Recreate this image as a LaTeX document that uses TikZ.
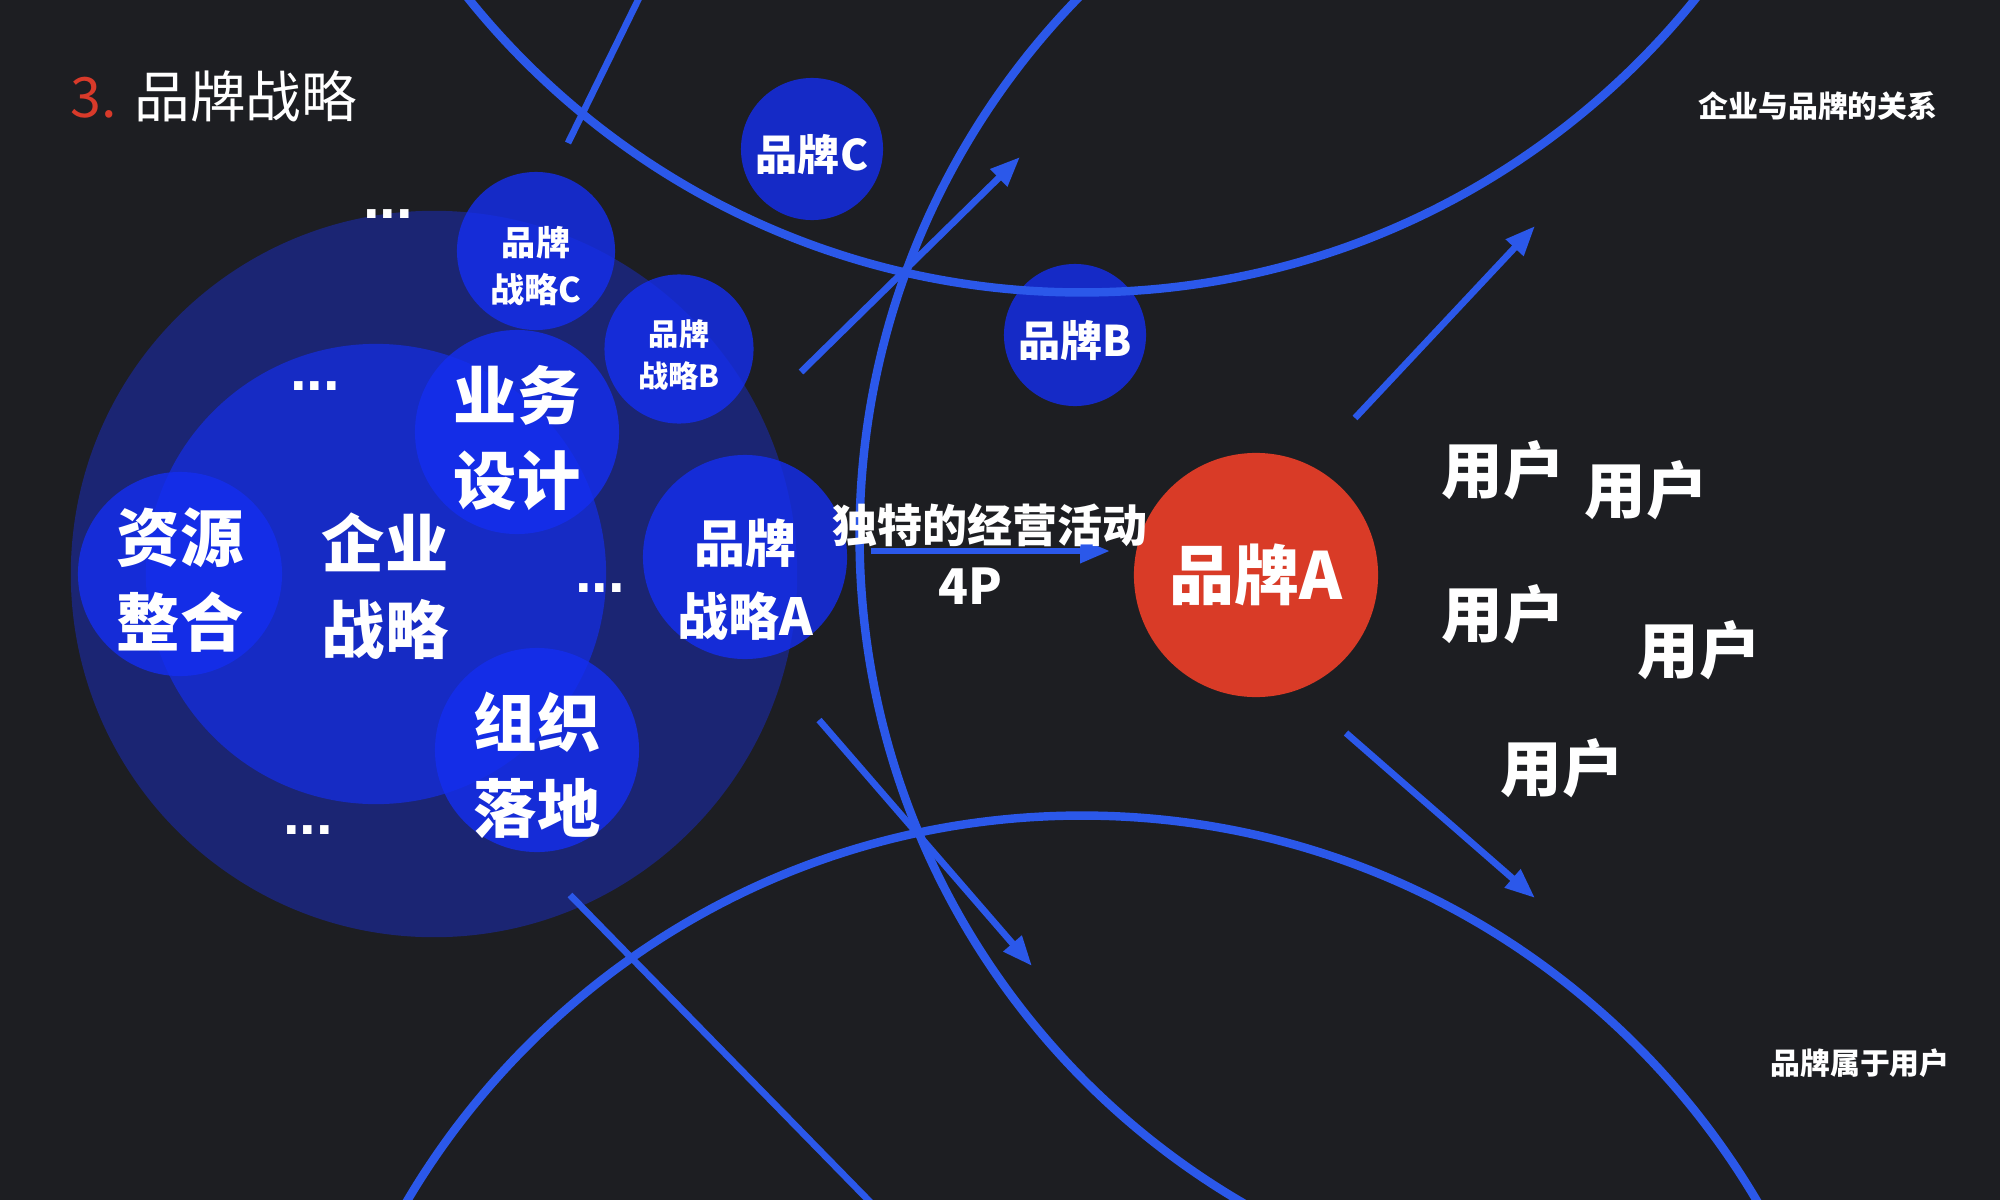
\documentclass[tikz,border=0pt]{standalone}
\usepackage{fontspec}
\setmainfont{Noto Sans CJK SC}
\newfontfamily\dotfont{Liberation Sans}
\usetikzlibrary{arrows.meta}
\definecolor{bgc}{HTML}{1D1E22}
\definecolor{linec}{HTML}{2B58EA}
\definecolor{outerc}{HTML}{1B2573}
\definecolor{innerc}{HTML}{162BC4}
\definecolor{bubc}{HTML}{142EF0}
\definecolor{redc}{HTML}{D93B27}
\definecolor{titlered}{HTML}{D83A2A}
\tikzset{   ring/.style = {draw = linec, line width = 2.4pt},
            ray/.style = {draw = linec, line width = 1.9pt},
            arr/.style = {ray, -{Triangle[length = 8.5pt, width = 6.5pt]}},
            bub/.style = {circle, fill = bubc, fill opacity = 0.8, inner sep = 0pt},
            btxt/.style = {text = white, align = center, inner sep = 0pt, yshift = -1.7pt},
            bigfont/.style = {text = white, align = center, font = \bfseries\fontsize{18pt}{24.4pt}\selectfont},
            bigtxt/.style = {btxt, bigfont},
            midtxt/.style = {btxt, font = \bfseries\fontsize{14.5pt}{20.7pt}\selectfont},
            smtxt/.style = {btxt, font = \bfseries\fontsize{9.7pt}{13.3pt}\selectfont},
            xstxt/.style = {btxt, font = \bfseries\fontsize{8.6pt}{11.9pt}\selectfont},
            brtxt/.style = {btxt, font = \bfseries\fontsize{12pt}{14pt}\selectfont},
            ellip/.style = {text = white, anchor = base, inner sep = 0pt, font = \dotfont\bfseries\fontsize{17pt}{20pt}\selectfont},
            user/.style = {text = white, inner sep = 0pt, font = \bfseries\fontsize{17.5pt}{20pt}\selectfont},
            lab/.style = {text = white, inner sep = 0pt, font = \bfseries\fontsize{12.8pt}{15pt}\selectfont},
            note/.style = {text = white, inner sep = 0pt, font = \bfseries\fontsize{8.5pt}{10pt}\selectfont}}

\begin{document}
\begin{tikzpicture}[x = 0.01cm, y = -0.01cm]
\useasboundingbox (0,0) rectangle (2000,1200);
\fill[bgc] (0,0) rectangle (2000,1200);
\begin{scope}
\clip (0,0) rectangle (2000,1200);
% left cluster
\node[circle, fill = outerc, minimum size = 7.26cm, inner sep = 0pt] (outer) at (434,574) {};
\node[circle, fill = innerc, minimum size = 4.6cm, inner sep = 0pt] (inner) at (376,574) {};
\node[bub, minimum size = 2.04cm, label = {[bigtxt]center:{资源\\整合}}] (zyzh) at (180,574) {};
\node[bigfont] (qyzl) at (385,586) {企业\\战略};
\node[bub, minimum size = 2.04cm, label = {[bigtxt]center:{业务\\设计}}] (ywsj) at (517,432) {};
\node[bub, minimum size = 2.04cm, label = {[bigtxt, yshift = -2.6pt]center:{组织\\落地}}] (zzld) at (537,750) {};
\node[bub, minimum size = 2.04cm, label = {[midtxt, yshift = -4.8pt]center:{品牌\\战略A}}] (zla) at (745,557) {};
\node[bub, minimum size = 1.49cm, label = {[xstxt]center:{品牌\\战略B}}] (zlb) at (679,349) {};
\node[bub, minimum size = 1.58cm, label = {[smtxt, yshift = -2.6pt]center:{品牌\\战略C}}] (zlc) at (536,251) {};
\node[ellip] (d1) at (388,218) {...};
\node[ellip] (d2) at (315,390) {...};
\node[ellip] (d3) at (600,592) {...};
\node[ellip] (d4) at (308,834) {...};
% brands
\node[bub, minimum size = 1.42cm, label = {[brtxt]center:品牌C}] (ppc) at (812,149) {};
\node[bub, minimum size = 1.42cm, label = {[brtxt]center:品牌B}] (ppb) at (1075,335) {};
\node[circle, fill = redc, minimum size = 2.44cm, inner sep = 0pt, text = white, font = \bfseries\fontsize{18.5pt}{20pt}\selectfont] (ppa) at (1256,575) {品牌A};
% rings
\draw[ring] (1082,-495) circle (7.87cm);
\draw[ring] (1082,1599) circle (7.83cm);
\draw[ring] (1631,536) circle (7.71cm);
% rays
\coordinate (s1) at (568,143);  \coordinate (e1) at (643,-10);
\coordinate (s2) at (801,372);  \coordinate (e2) at (1020,157);
\coordinate (s3) at (1355,418); \coordinate (e3) at (1535,226);
\coordinate (s4) at (1346,733); \coordinate (e4) at (1535,898);
\coordinate (s5) at (819,720);  \coordinate (e5) at (1032,966);
\coordinate (s6) at (570,895);  \coordinate (e6) at (878,1210);
\coordinate (h1) at (871,551);  \coordinate (h2) at (1110,551);
\draw[ray] (s1) -- (e1);
\draw[arr] (s2) -- (e2);
\draw[arr] (s3) -- (e3);
\draw[arr] (s4) -- (e4);
\draw[arr] (s5) -- (e5);
\draw[ray] (s6) -- (e6);
\draw[arr] (h1) -- (h2);
\end{scope}
\node[lab] (hd) at (990,525) {独特的经营活动};
\node[lab, font = \bfseries\fontsize{14pt}{16pt}\selectfont] (fp) at (970,586) {4P};
% users
\node[user] (u1) at (1503,470) {用户};
\node[user] (u2) at (1646,490) {用户};
\node[user] (u3) at (1503,614) {用户};
\node[user] (u4) at (1699,650) {用户};
\node[user] (u5) at (1562,768) {用户};
% titles
\node[anchor = base west, inner sep = 0pt, text = white, font = \fontsize{15.8pt}{18pt}\selectfont] (title) at (70,117) {{\color{titlered}3.}\hspace{5pt}品牌战略};
\node[note] (rel) at (1818,106) {企业与品牌的关系};
\node[note] (own) at (1860,1063) {品牌属于用户};
\end{tikzpicture}
\end{document}
